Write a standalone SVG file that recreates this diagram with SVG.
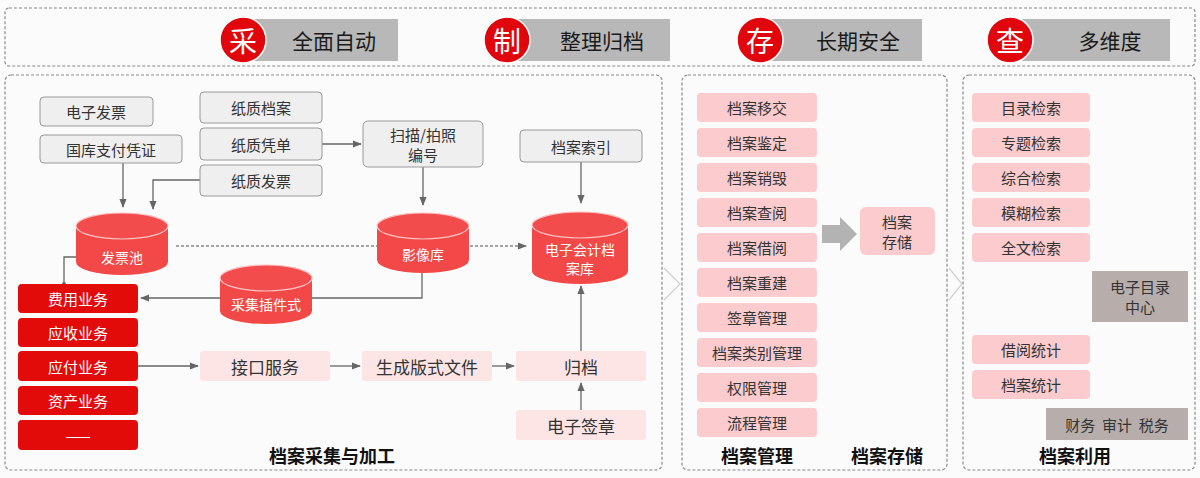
<svg xmlns="http://www.w3.org/2000/svg" width="1200" height="478" viewBox="0 0 1200 478">
<defs>
<style>
text{font-family:"Noto Sans CJK SC","Liberation Sans",sans-serif;text-anchor:middle;dominant-baseline:central}
.panel{fill:none;stroke:#8a8a8a;stroke-width:1.2;stroke-dasharray:3 2}
.hbox{fill:#b8b8b8}
.htxt{font-size:21px;fill:#1a1a1a}
.circ{fill:#e0060b;stroke:#fff;stroke-width:1.5}
.ctxt{font-size:28px;fill:#fff}
.gbox{fill:#efefef;stroke:#9a9a9a;stroke-width:1}
.gtxt{font-size:15px;fill:#333}
.rbox{fill:#e30a0a}
.rtxt{font-size:15px;fill:#fff}
.lpink{fill:#fde5e5}
.ptxt{font-size:17px;fill:#333}
.pink{fill:#fbcbce}
.ktxt{font-size:15px;fill:#333}
.dbox{fill:#b7aeac}
.cyl{fill:#f24848}
.cyltop{fill:#f34c4c;stroke:#ffc4c4;stroke-width:1.2}
.cytxt{font-size:14px;fill:#fff}
.ttl{font-size:18px;font-weight:bold;fill:#111}
.ln{fill:none;stroke:#666;stroke-width:1.3}
.dash{fill:none;stroke:#888;stroke-width:1.3;stroke-dasharray:3 2}
.chev{fill:none;stroke:#d0d0d0;stroke-width:1.2}
</style>
<marker id="ah" viewBox="0 0 10 10" refX="9" refY="5" markerWidth="7" markerHeight="7" orient="auto-start-reverse">
<path d="M0,1 L10,5 L0,9 Z" fill="#666"/>
</marker>
</defs>
<rect width="1200" height="478" fill="#fbfbfb"/>

<!-- header -->
<g id="header">
<rect class="panel" x="5" y="8" width="1190" height="58" rx="4"/>
<g id="h-cai"><rect class="hbox" x="248" y="19" width="150" height="42"/><circle class="circ" cx="243" cy="40" r="23"/><text class="ctxt" x="243" y="40">采</text><text class="htxt" x="334" y="40">全面自动</text></g>
<g id="h-zhi"><rect class="hbox" x="512" y="19" width="158" height="42"/><circle class="circ" cx="507" cy="40" r="23"/><text class="ctxt" x="507" y="40">制</text><text class="htxt" x="602" y="40">整理归档</text></g>
<g id="h-cun"><rect class="hbox" x="765" y="19" width="157" height="42"/><circle class="circ" cx="760" cy="40" r="23"/><text class="ctxt" x="760" y="40">存</text><text class="htxt" x="858" y="40">长期安全</text></g>
<g id="h-cha"><rect class="hbox" x="1015" y="19" width="155" height="42"/><circle class="circ" cx="1010" cy="40" r="23"/><text class="ctxt" x="1010" y="40">查</text><text class="htxt" x="1110" y="40">多维度</text></g>
</g>

<!-- panels -->
<rect class="panel" x="5" y="75" width="657" height="395" rx="6"/>
<rect class="panel" x="682" y="75" width="265" height="395" rx="6"/>
<rect class="panel" x="963" y="75" width="232" height="395" rx="6"/>
<path class="chev" d="M664,268 L680,284 L664,300 M668,272 L680,284"/>
<path class="chev" d="M949,268 L962,284 L949,300"/>

<!-- connectors -->
<g id="connectors">
<path class="ln" d="M123,163 V207" marker-end="url(#ah)"/>
<path class="ln" d="M200,180 H153 V209" marker-end="url(#ah)"/>
<path class="ln" d="M322,144 H361" marker-end="url(#ah)"/>
<path class="ln" d="M423,167 V205" marker-end="url(#ah)"/>
<path class="ln" d="M581,162 V203" marker-end="url(#ah)"/>
<path class="dash" d="M176,246 H377"/>
<path class="dash" d="M470,246 H526" marker-end="url(#ah)"/>
<path class="ln" d="M422,272 V298 H312"/>
<path class="ln" d="M220,298 H141" marker-end="url(#ah)"/>
<path class="ln" d="M77,257 H64 V284"/>
<circle cx="64" cy="284" r="2" fill="#666"/>
<path class="ln" d="M138,366 H198" marker-end="url(#ah)"/>
<path class="ln" d="M330,366 H360" marker-end="url(#ah)"/>
<path class="ln" d="M492,366 H514" marker-end="url(#ah)"/>
<path class="ln" d="M581,410 V383" marker-end="url(#ah)"/>
<path class="ln" d="M581,351 V286" marker-end="url(#ah)"/>
</g>

<!-- panel 1 nodes -->
<g id="n-dzfp"><rect class="gbox" x="40" y="97" width="113" height="29" rx="4"/><text class="gtxt" x="96" y="111">电子发票</text></g>
<g id="n-gkzf"><rect class="gbox" x="40" y="135" width="142" height="28" rx="4"/><text class="gtxt" x="111" y="149">国库支付凭证</text></g>
<g id="n-zzda"><rect class="gbox" x="200" y="92" width="122" height="31" rx="4"/><text class="gtxt" x="261" y="107">纸质档案</text></g>
<g id="n-zzpd"><rect class="gbox" x="200" y="128" width="122" height="32" rx="4"/><text class="gtxt" x="261" y="144">纸质凭单</text></g>
<g id="n-zzfp"><rect class="gbox" x="200" y="165" width="122" height="31" rx="4"/><text class="gtxt" x="261" y="180">纸质发票</text></g>
<g id="n-smpz"><rect class="gbox" x="363" y="121" width="120" height="46" rx="5"/><text class="gtxt" x="423" y="134">扫描/拍照</text><text class="gtxt" x="423" y="154">编号</text></g>
<g id="n-dasy"><rect class="gbox" x="520" y="130" width="122" height="32" rx="4"/><text class="gtxt" x="581" y="146">档案索引</text></g>

<g id="n-fpc"><path class="cyl" d="M76,226 A46,13 0 0 1 168,226 V262 A46,13 0 0 1 76,262 Z"/><ellipse class="cyltop" cx="122" cy="226" rx="46" ry="13"/><text class="cytxt" x="122" y="257">发票池</text></g>
<g id="n-yxk"><path class="cyl" d="M377,226 A46,13 0 0 1 469,226 V260 A46,13 0 0 1 377,260 Z"/><ellipse class="cyltop" cx="423" cy="226" rx="46" ry="13"/><text class="cytxt" x="423" y="254">影像库</text></g>
<g id="n-dzkj"><path class="cyl" d="M532,225 A48,13 0 0 1 628,225 V271 A48,13 0 0 1 532,271 Z"/><ellipse class="cyltop" cx="580" cy="225" rx="48" ry="13"/><text class="cytxt" x="580" y="249">电子会计档</text><text class="cytxt" x="580" y="268">案库</text></g>
<g id="n-cjcj"><path class="cyl" d="M220,278 A46,13 0 0 1 312,278 V311 A46,13 0 0 1 220,311 Z"/><ellipse class="cyltop" cx="266" cy="278" rx="46" ry="13"/><text class="cytxt" x="266" y="304">采集插件式</text></g>

<g id="n-fyyw"><rect class="rbox" x="18" y="284" width="120" height="29" rx="4"/><text class="rtxt" x="78" y="298">费用业务</text></g>
<g id="n-ysyw"><rect class="rbox" x="18" y="318" width="120" height="29" rx="4"/><text class="rtxt" x="78" y="332">应收业务</text></g>
<g id="n-yfyw"><rect class="rbox" x="18" y="351" width="120" height="30" rx="4"/><text class="rtxt" x="78" y="366">应付业务</text></g>
<g id="n-zcyw"><rect class="rbox" x="18" y="386" width="120" height="29" rx="4"/><text class="rtxt" x="78" y="400">资产业务</text></g>
<g id="n-more"><rect class="rbox" x="18" y="420" width="120" height="30" rx="4"/><text class="rtxt" x="78" y="435">——</text></g>

<g id="n-jkfw"><rect class="lpink" x="200" y="351" width="130" height="30" rx="3"/><text class="ptxt" x="265" y="366">接口服务</text></g>
<g id="n-scbs"><rect class="lpink" x="362" y="351" width="130" height="30" rx="3"/><text class="ptxt" x="427" y="366">生成版式文件</text></g>
<g id="n-gd"><rect class="lpink" x="516" y="351" width="130" height="30" rx="3"/><text class="ptxt" x="581" y="366">归档</text></g>
<g id="n-dzqz"><rect class="lpink" x="516" y="410" width="130" height="30" rx="3"/><text class="ptxt" x="581" y="425">电子签章</text></g>

<text class="ttl" x="332" y="455">档案采集与加工</text>

<!-- panel 2 -->
<g id="n-dayj"><rect class="pink" x="697" y="93" width="120" height="29" rx="4"/><text class="ktxt" x="757" y="107">档案移交</text></g>
<g id="n-dajd"><rect class="pink" x="697" y="128" width="120" height="29" rx="4"/><text class="ktxt" x="757" y="142">档案鉴定</text></g>
<g id="n-daxh"><rect class="pink" x="697" y="163" width="120" height="29" rx="4"/><text class="ktxt" x="757" y="177">档案销毁</text></g>
<g id="n-dacy"><rect class="pink" x="697" y="198" width="120" height="29" rx="4"/><text class="ktxt" x="757" y="212">档案查阅</text></g>
<g id="n-dajy"><rect class="pink" x="697" y="233" width="120" height="29" rx="4"/><text class="ktxt" x="757" y="247">档案借阅</text></g>
<g id="n-dacj"><rect class="pink" x="697" y="268" width="120" height="29" rx="4"/><text class="ktxt" x="757" y="282">档案重建</text></g>
<g id="n-qzgl"><rect class="pink" x="697" y="303" width="120" height="29" rx="4"/><text class="ktxt" x="757" y="317">签章管理</text></g>
<g id="n-lbgl"><rect class="pink" x="697" y="338" width="120" height="29" rx="4"/><text class="ktxt" x="757" y="352">档案类别管理</text></g>
<g id="n-qxgl"><rect class="pink" x="697" y="373" width="120" height="29" rx="4"/><text class="ktxt" x="757" y="387">权限管理</text></g>
<g id="n-lcgl"><rect class="pink" x="697" y="408" width="120" height="29" rx="4"/><text class="ktxt" x="757" y="422">流程管理</text></g>
<path d="M822,225 H840 V217 L857,234 L840,251 V243 H822 Z" fill="#b3b3b3"/>
<g id="n-dacc"><rect class="pink" x="860" y="207" width="75" height="48" rx="6"/><text class="ktxt" x="897" y="221">档案</text><text class="ktxt" x="897" y="241">存储</text></g>
<text class="ttl" x="757" y="455">档案管理</text>
<text class="ttl" x="887" y="455">档案存储</text>

<!-- panel 3 -->
<g id="n-mljs"><rect class="pink" x="972" y="93" width="118" height="29" rx="4"/><text class="ktxt" x="1031" y="107">目录检索</text></g>
<g id="n-ztjs"><rect class="pink" x="972" y="128" width="118" height="29" rx="4"/><text class="ktxt" x="1031" y="142">专题检索</text></g>
<g id="n-zhjs"><rect class="pink" x="972" y="163" width="118" height="29" rx="4"/><text class="ktxt" x="1031" y="177">综合检索</text></g>
<g id="n-mhjs"><rect class="pink" x="972" y="198" width="118" height="29" rx="4"/><text class="ktxt" x="1031" y="212">模糊检索</text></g>
<g id="n-qwjs"><rect class="pink" x="972" y="233" width="118" height="29" rx="4"/><text class="ktxt" x="1031" y="247">全文检索</text></g>
<g id="n-dzml"><rect class="dbox" x="1092" y="271" width="96" height="51"/><text class="ktxt" x="1140" y="286">电子目录</text><text class="ktxt" x="1140" y="306">中心</text></g>
<g id="n-jytj"><rect class="pink" x="972" y="335" width="118" height="29" rx="4"/><text class="ktxt" x="1031" y="349">借阅统计</text></g>
<g id="n-datj"><rect class="pink" x="972" y="370" width="118" height="29" rx="4"/><text class="ktxt" x="1031" y="384">档案统计</text></g>
<g id="n-cwsj"><rect class="dbox" x="1046" y="408" width="142" height="32"/><text class="ktxt" x="1117" y="424" xml:space="preserve">财务  审计  税务</text></g>
<text class="ttl" x="1075" y="455">档案利用</text>
</svg>
